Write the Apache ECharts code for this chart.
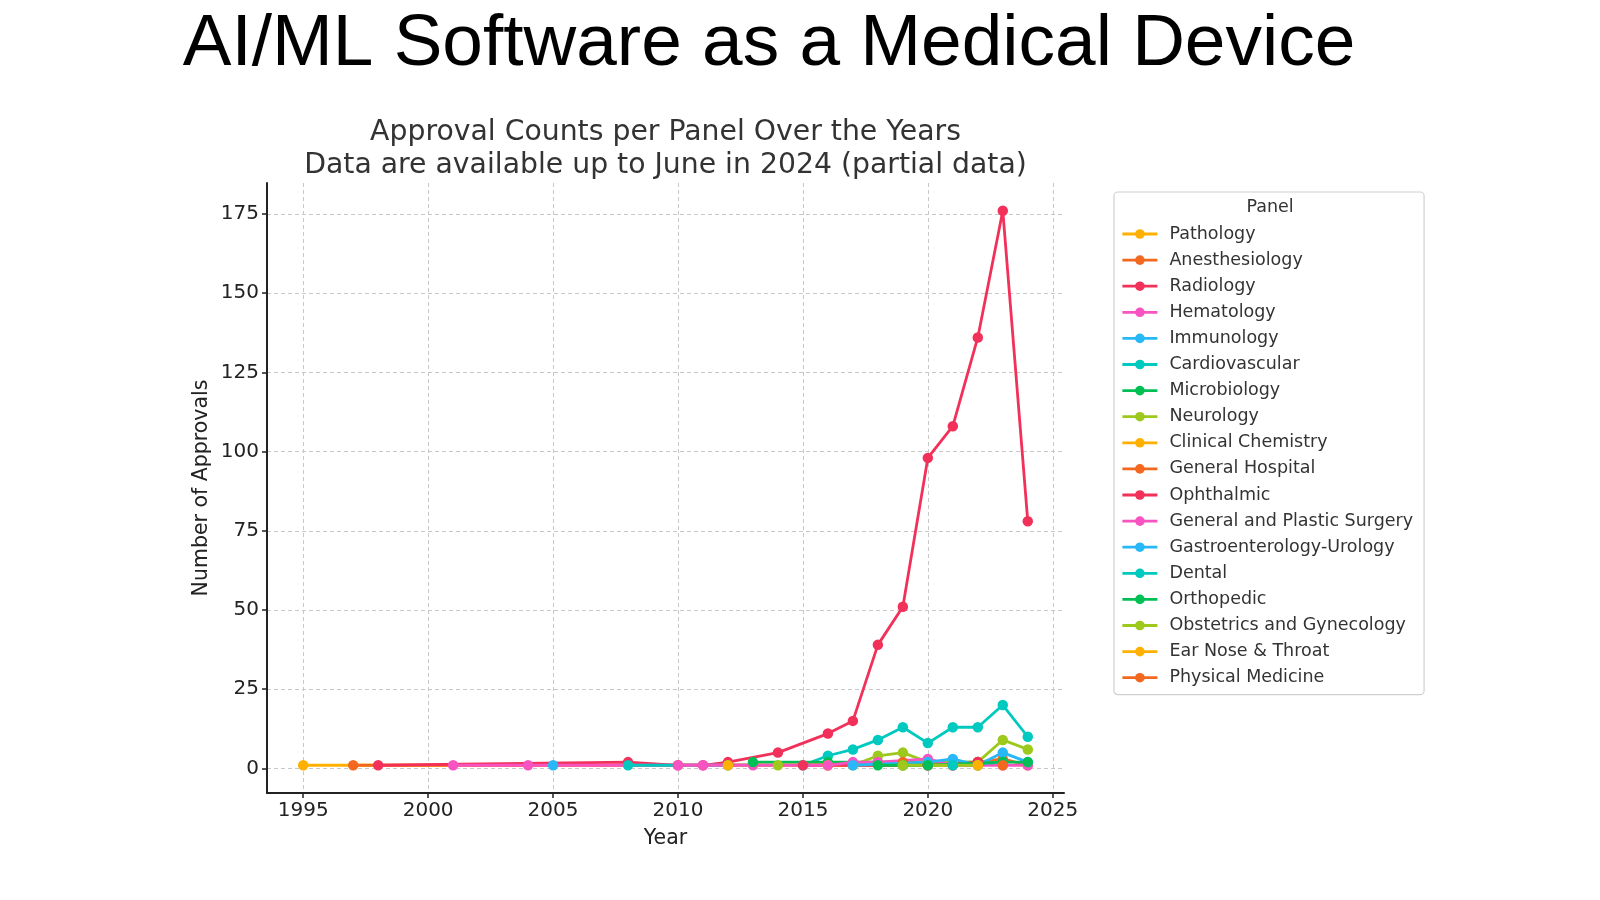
<!DOCTYPE html>
<html>
<head>
<meta charset="utf-8">
<script src="https://cdn.jsdelivr.net/npm/echarts@6/dist/echarts.min.js"></script>
<style>
html,body{margin:0;padding:0;background:#fff;}
#chart{width:1600px;height:900px;}
</style>
</head>
<body>
<div id="chart"></div>
<script>
// ---- data ----
const pageTitle = 'AI/ML Software as a Medical Device';
const chartTitle = 'Approval Counts per Panel Over the Years\nData are available up to June in 2024 (partial data)';
const xName = 'Year';
const yName = 'Number of Approvals';
const legendTitle = 'Panel';
const xTicks = [1995, 2000, 2005, 2010, 2015, 2020, 2025];
const yTicks = [0, 25, 50, 75, 100, 125, 150, 175];

const panels = ['Pathology','Anesthesiology','Radiology','Hematology','Immunology','Cardiovascular',
  'Microbiology','Neurology','Clinical Chemistry','General Hospital','Ophthalmic',
  'General and Plastic Surgery','Gastroenterology-Urology','Dental','Orthopedic',
  'Obstetrics and Gynecology','Ear Nose & Throat','Physical Medicine'];

const pathology = [[1995,1],[2021,1],[2022,1]];
const anesthesiology = [[1997,1],[2016,1],[2020,1]];
const radiology = [[1998,1],[2008,2],[2010,1],[2011,1],[2012,2],[2014,5],[2016,11],[2017,15],[2018,39],[2019,51],[2020,98],[2021,108],[2022,136],[2023,176],[2024,78]];
const hematology = [[2001,1],[2004,1],[2013,1]];
const immunology = [[2005,1]];
const cardiovascular = [[2008,1],[2012,1],[2015,1],[2016,4],[2017,6],[2018,9],[2019,13],[2020,8],[2021,13],[2022,13],[2023,20],[2024,10]];
const microbiology = [[2013,2],[2016,2],[2018,2],[2021,2],[2022,2]];
const neurology = [[2014,1],[2017,1],[2018,4],[2019,5],[2020,2],[2021,2],[2022,2],[2023,9],[2024,6]];
const clinicalChemistry = [[2012,1],[2016,1],[2019,1]];
const generalHospital = [[2019,2],[2021,1],[2022,2],[2023,3],[2024,1]];
const ophthalmic = [[2015,1],[2020,1],[2022,2]];
const generalPlasticSurgery = [[2010,1],[2011,1],[2016,1],[2017,2],[2018,2],[2020,3],[2021,1],[2023,1],[2024,1]];
const gastroUrology = [[2017,1],[2020,2],[2021,3],[2022,1],[2023,5],[2024,2]];
const dental = [[2021,1],[2023,2]];
const orthopedic = [[2018,1],[2019,1],[2020,1],[2023,2],[2024,2]];
const obgyn = [[2019,1],[2022,1]];
const earNoseThroat = [[2022,1]];
const physicalMedicine = [[2023,1]];

const seriesData = [pathology, anesthesiology, radiology, hematology, immunology, cardiovascular,
  microbiology, neurology, clinicalChemistry, generalHospital, ophthalmic, generalPlasticSurgery,
  gastroUrology, dental, orthopedic, obgyn, earNoseThroat, physicalMedicine];

const palette = ['#ffb000','#f2681f','#f2315a','#f754c1','#28b8f7','#00c9bf','#00c055','#9dc91c'];

// ---- chart ----
const chart = echarts.init(document.getElementById('chart'), null, {renderer: 'canvas'});
const dv = 'DejaVu Sans, Noto Sans, sans-serif';

const series = panels.map((name, i) => ({
  name: name,
  type: 'line',
  data: seriesData[i],
  symbol: 'circle',
  symbolSize: 10.5,
  showSymbol: true,
  color: palette[i % palette.length],
  lineStyle: {width: 2.8, color: palette[i % palette.length]},
  itemStyle: {color: palette[i % palette.length]},
  emphasis: {disabled: true},
  animation: false
}));

chart.setOption({
  animation: false,
  backgroundColor: '#ffffff',
  title: [
    {text: pageTitle, left: 769, top: 8, textAlign: 'center', padding: 0,
     textStyle: {fontFamily: 'Liberation Sans, Arial, sans-serif', fontSize: 73, lineHeight: 73, fontWeight: 'normal', color: '#000'}},
    {text: chartTitle, left: 665.5, top: 116, textAlign: 'center', padding: 0,
     textStyle: {fontFamily: dv, fontSize: 28.3, lineHeight: 33, fontWeight: 'normal', color: '#333'}},
    {text: legendTitle, left: 1270, top: 198, textAlign: 'center', padding: 0, z: 10,
     textStyle: {fontFamily: dv, fontSize: 17.5, lineHeight: 19, fontWeight: 'normal', color: '#333'}}
  ],
  legend: {
    orient: 'vertical',
    left: 1114, top: 192,
    padding: [33, 11, 8, 7],
    itemWidth: 35, itemHeight: 12,
    itemGap: 8.1,
    borderColor: '#d0d0d0', borderWidth: 1.2, borderRadius: 4,
    backgroundColor: 'rgba(255,255,255,0.8)',
    lineStyle: {width: 2.8},
    textStyle: {fontFamily: dv, fontSize: 17.5, lineHeight: 18, color: '#333', padding: [0,0,0,7]},
    data: panels,
    selectedMode: false
  },
  grid: {left: 267, right: 536, top: 183, bottom: 107, containLabel: false},
  xAxis: {
    type: 'value', min: 1993.55, max: 2025.45,
    name: xName, nameLocation: 'middle', nameGap: 35,
    nameTextStyle: {fontFamily: dv, fontSize: 20.5, color: '#222'},
    axisLine: {show: true, onZero: false, lineStyle: {color: '#222', width: 2}},
    axisTick: {show: true, length: 5, lineStyle: {color: '#222', width: 1.5}, customValues: xTicks},
    axisLabel: {fontFamily: dv, fontSize: 20, color: '#222', margin: 8, customValues: xTicks,
      formatter: v => String(v)},
    splitLine: {show: true, lineStyle: {color: '#c8c8c8', type: [4, 3], width: 1}}
  },
  yAxis: {
    type: 'value', min: -7.75, max: 184.75,
    name: yName, nameLocation: 'middle', nameGap: 55,
    nameTextStyle: {fontFamily: dv, fontSize: 20.5, color: '#222'},
    axisLine: {show: true, onZero: false, lineStyle: {color: '#222', width: 2}},
    axisTick: {show: true, length: 5, lineStyle: {color: '#222', width: 1.5}, customValues: yTicks},
    axisLabel: {fontFamily: dv, fontSize: 20, color: '#222', margin: 8, customValues: yTicks,
      formatter: v => String(v)},
    splitLine: {show: true, lineStyle: {color: '#c8c8c8', type: [4, 3], width: 1}}
  },
  series: series
});
</script>
</body>
</html>
